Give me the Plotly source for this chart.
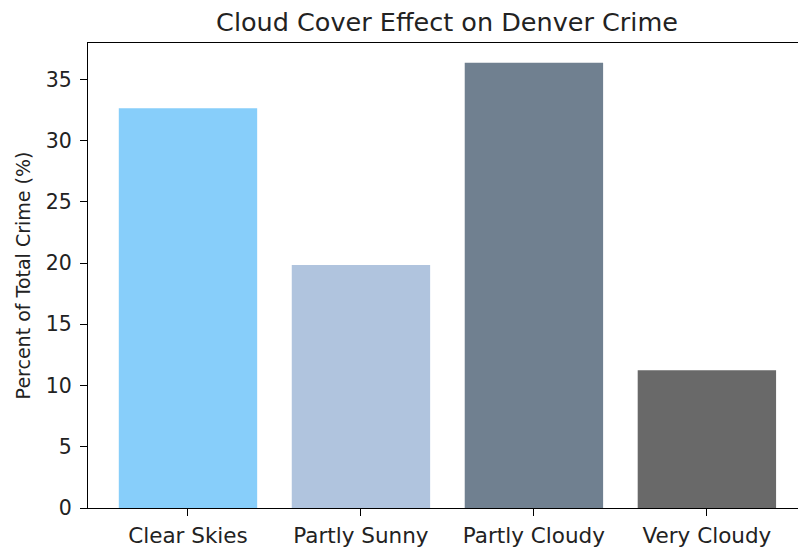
import plotly.graph_objects as go

categories = ["Clear Skies", "Partly Sunny", "Partly Cloudy", "Very Cloudy"]
percent_values = [32.64, 19.85, 36.35, 11.24]
bar_colors = ["#87CEFA", "#B0C4DE", "#708090", "#696969"]
y_ticks = [0, 5, 10, 15, 20, 25, 30, 35]

fig = go.Figure(
    go.Bar(
        x=list(range(len(categories))),
        y=percent_values,
        width=0.8,
        marker=dict(color=bar_colors, line=dict(width=0)),
    )
)

# the page body has an 8px margin, so the figure is offset by 8px
W, H = 798, 540
font_family = "DejaVu Sans"
fig.update_layout(
    width=W,
    height=H,
    margin=dict(l=80, r=0, t=35, b=38),
    paper_bgcolor="white",
    plot_bgcolor="white",
    showlegend=False,
    font=dict(family=font_family, color="#222222", size=20),
    title=dict(
        text="Cloud Cover Effect on Denver Crime",
        x=0.5, xanchor="center", xref="paper",
        y=1 - 14.5 / H, yanchor="middle", yref="container",
        font=dict(size=25.5, family=font_family, color="#222222"),
    ),
)
fig.update_xaxes(
    range=[-0.578, 3.573],
    tickmode="array",
    tickvals=list(range(len(categories))),
    ticktext=categories,
    showline=True, linecolor="black", linewidth=1.3, mirror=True,
    ticks="outside", ticklen=7, tickcolor="black",
    ticklabelstandoff=1,
    showgrid=False, zeroline=False,
    tickfont=dict(size=21.5),
)
fig.update_yaxes(
    range=[0, 37.97],
    tickmode="array",
    tickvals=y_ticks,
    showline=True, linecolor="black", linewidth=1.3,
    ticks="outside", ticklen=7, tickcolor="black",
    ticklabelstandoff=4,
    showgrid=False, zeroline=False,
    tickfont=dict(size=20.5),
    title=dict(text="Percent of Total Crime (%)", font=dict(size=19), standoff=10),
)

fig.write_html("out.html")
